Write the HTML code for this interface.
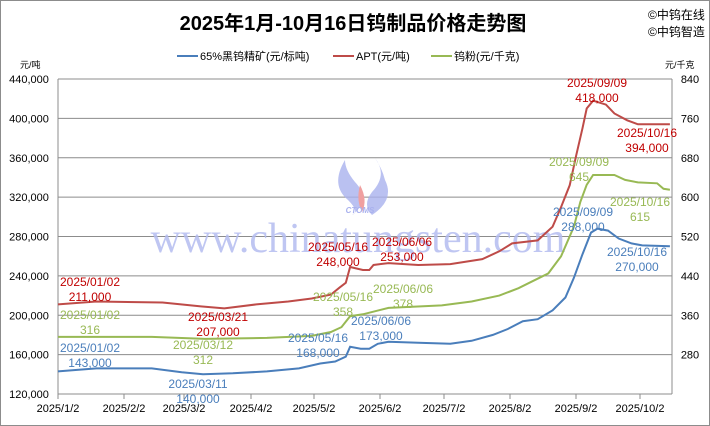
<!DOCTYPE html>
<html><head><meta charset="utf-8"><style>
body{margin:0;background:#fff}
svg{display:block;font-family:"Liberation Sans","Noto Sans CJK SC",sans-serif}
</style></head><body>
<svg id="s" width="710" height="426" viewBox="0 0 710 426" xmlns="http://www.w3.org/2000/svg">
<rect x="0.5" y="0.5" width="709" height="425" fill="#fff" stroke="#8c8c8c"/>
<text x="353" y="30" text-anchor="middle" font-size="20" font-weight="bold" fill="#000">2025年1月-10月16日钨制品价格走势图</text>
<text x="648" y="19" font-size="12" fill="#000">©中钨在线</text>
<text x="648" y="36" font-size="12" fill="#000">©中钨智造</text>
<g font-size="11" fill="#000">
<line x1="177" y1="56" x2="198" y2="56" stroke="#4a7ebb" stroke-width="2"/><text x="200" y="60">65%黑钨精矿(元/标吨)</text>
<line x1="333" y1="56" x2="354" y2="56" stroke="#be4b48" stroke-width="2"/><text x="356" y="60">APT(元/吨)</text>
<line x1="431" y1="56" x2="452" y2="56" stroke="#98b954" stroke-width="2"/><text x="454" y="60">钨粉(元/千克)</text>
<text x="20" y="68" font-size="9">元/吨</text>
<text x="665" y="68" font-size="9">元/千克</text>
</g>
<g id="grid" stroke="#8c8c8c" stroke-width="1"></g>
<g id="wm">
<path d="M345 160 Q330 185 348 200 Q360 212 352 215 Q372 200 355 182 Q345 170 345 160Z" fill="#a9b1ee" opacity=".8"/>
<path d="M375 158 Q388 175 372 192 Q362 205 372 215 Q395 200 385 180 Q382 168 375 158Z" fill="#a9b1ee" opacity=".8"/>
<path d="M360 185 Q356 200 362 212 Q368 200 360 185Z" fill="#f0a0a0"/>
<text x="360" y="213" font-size="8" font-style="italic" font-weight="bold" fill="#a9b1ee" text-anchor="middle">CTOMS</text>
<text x="358" y="252" text-anchor="middle" font-family="Liberation Serif,serif" font-size="42" fill="#b5bdf0" opacity=".85">www.chinatungsten.com</text>
</g>
<g id="lines" fill="none" stroke-width="2"></g>
<g id="lbl" font-size="11" text-anchor="middle"></g>
</svg>
<script>
const NS="http://www.w3.org/2000/svg";
function el(p,t,a,txt){const e=document.createElementNS(NS,t);for(const k in a)e.setAttribute(k,a[k]);if(txt!==undefined)e.textContent=txt;document.getElementById(p).appendChild(e);return e;}
const X0=58,X1=672,Y0=79,Y1=394;
for(let i=0;i<=8;i++){const y=Y0+i*(Y1-Y0)/8;el('grid','line',{x1:X0,x2:X1,y1:y,y2:y});
 el('lbl','text',{x:29,y:y+4,'font-size':11,fill:'#000'},(440-i*40)+',000');
 if(i<8)el('lbl','text',{x:690,y:y+4,'font-size':11,fill:'#000'},840-i*80);}
el('grid','line',{x1:X0,x2:X0,y1:Y0,y2:Y1});el('grid','line',{x1:X1,x2:X1,y1:Y0,y2:Y1});
const xt=[[58,'2025/1/2'],[124,'2025/2/2'],[184,'2025/3/2'],[251,'2025/4/2'],[314,'2025/5/2'],[380,'2025/6/2'],[444,'2025/7/2'],[510,'2025/8/2'],[576,'2025/9/2'],[640,'2025/10/2']];
xt.forEach(([x,t])=>{el('grid','line',{x1:x,x2:x,y1:Y1,y2:Y1+5});el('lbl','text',{x:x,y:412,'font-size':11,fill:'#000'},t);});
const dx=(X1-X0)/288;
function d(m,dd){const c=[0,31,59,90,120,151,181,212,243,273];return c[m-1]+dd-2;}
const L=v=>Y0+(440-v)*(Y1-Y0)/320, R=v=>Y0+(840-v)*(Y1-Y0)/640;
function line(pts,f,col){el('lines','polyline',{stroke:col,points:pts.map(p=>(X0+d(p[0],p[1])*dx).toFixed(1)+','+f(p[2]).toFixed(1)).join(' ')});}
line([[1,2,211],[1,20,214],[2,20,213],[3,10,209],[3,21,207],[4,5,211],[4,20,214],[5,1,217],[5,10,221],[5,14,228],[5,17,233],[5,19,249],[5,25,246],[5,28,246],[5,30,251],[6,6,253],[6,20,251],[7,5,252],[7,20,257],[7,28,265],[8,3,273],[8,15,276],[8,22,290],[8,26,310],[8,30,332],[9,2,362],[9,5,390],[9,7,410],[9,10,418],[9,16,414],[9,20,405],[9,26,398],[10,1,394],[10,16,394]],L,'#be4b48');
line([[1,2,316],[2,15,316],[3,12,312],[4,10,314],[5,1,318],[5,10,326],[5,15,336],[5,19,358],[5,25,362],[6,6,375],[7,1,380],[7,15,388],[7,28,400],[8,6,415],[8,12,428],[8,20,445],[8,26,480],[9,1,540],[9,4,590],[9,7,625],[9,10,645],[9,20,645],[9,25,635],[10,1,630],[10,10,628],[10,13,617],[10,16,615]],R,'#98b954');
line([[1,2,143],[1,20,146],[2,15,146],[3,1,142],[3,11,140],[3,25,141],[4,10,143],[4,25,146],[5,5,151],[5,12,153],[5,17,158],[5,19,168],[5,24,166],[5,28,166],[6,1,171],[6,6,173],[6,20,172],[7,5,171],[7,15,174],[7,25,180],[8,1,186],[8,8,194],[8,15,196],[8,22,205],[8,28,218],[9,1,238],[9,5,262],[9,9,284],[9,12,288],[9,17,286],[9,22,278],[9,28,273],[10,3,271],[10,16,270]],L,'#4a7ebb');
const labs=[['#c00000',90,282,'2025/01/02','211,000'],['#c00000',218,317,'2025/03/21','207,000'],['#c00000',338,247,'2025/05/16','248,000'],['#c00000',402,242,'2025/06/06','253,000'],['#c00000',597,83,'2025/09/09','418,000'],['#c00000',647,133,'2025/10/16','394,000'],
['#98b954',90,315,'2025/01/02','316'],['#98b954',203,345,'2025/03/12','312'],['#98b954',343,297,'2025/05/16','358'],['#98b954',403,289,'2025/06/06','378'],['#98b954',579,162,'2025/09/09','645'],['#98b954',640,202,'2025/10/16','615'],
['#4a7ebb',90,348,'2025/01/02','143,000'],['#4a7ebb',198,384,'2025/03/11','140,000'],['#4a7ebb',318,338,'2025/05/16','168,000'],['#4a7ebb',381,321,'2025/06/06','173,000'],['#4a7ebb',583,212,'2025/09/09','288,000'],['#4a7ebb',637,252,'2025/10/16','270,000']];
labs.forEach(([c,x,y,a,b])=>{el('lbl','text',{x:x,y:y+4,fill:c,'font-size':12},a);el('lbl','text',{x:x,y:y+19,fill:c,'font-size':12},b);});
</script>
</body></html>
